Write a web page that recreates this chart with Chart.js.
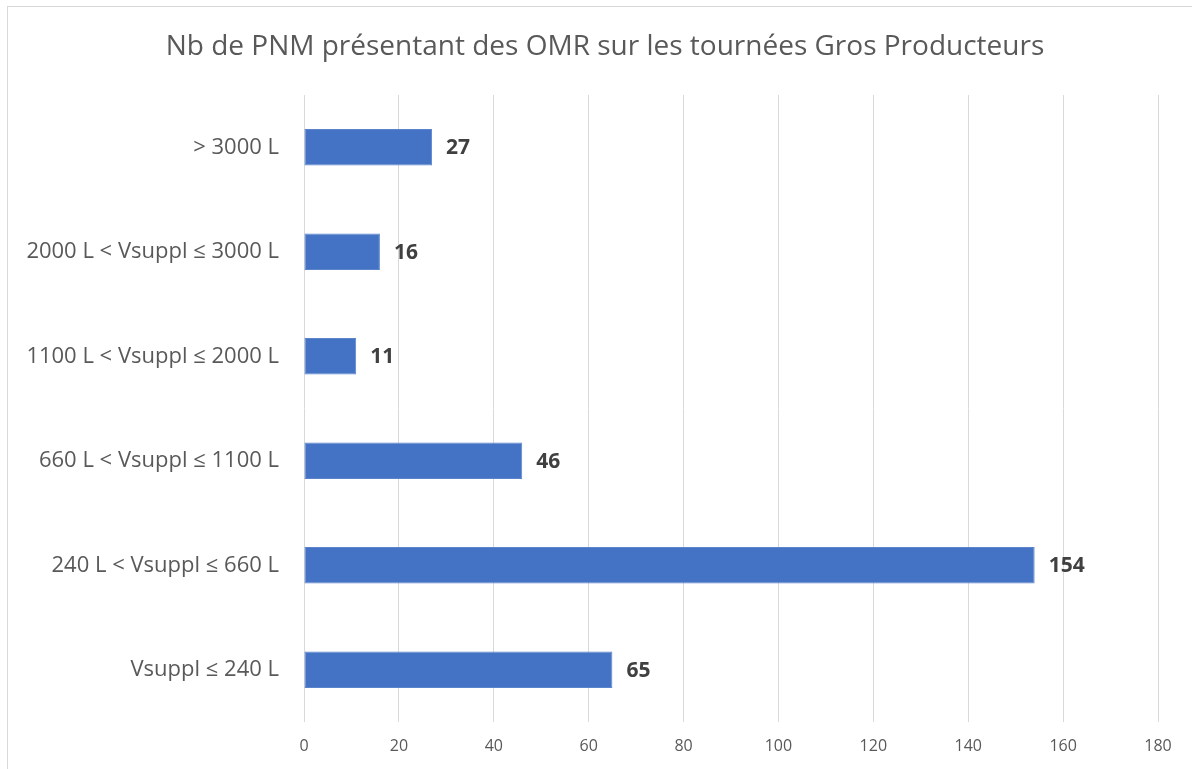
<!DOCTYPE html>
<html lang="fr">
<head>
<meta charset="utf-8">
<title>Nb de PNM présentant des OMR</title>
<script src="https://cdn.jsdelivr.net/npm/chart.js@4/dist/chart.umd.min.js"></script>
<style>
    html, body { margin: 0; padding: 0; background: #ffffff; overflow: hidden; }
    #wrap { position: relative; width: 1192px; height: 769px; }
    #frame {
        position: absolute; left: 7px; top: 6px; width: 1300px; height: 900px;
        border: 1px solid #d9d9d9; pointer-events: none;
    }
    #chart { position: absolute; left: 0; top: 0; }
</style>
</head>
<body>
<div id="wrap">
    <div id="frame"></div>
    <canvas id="chart" width="1192" height="769"></canvas>
</div>
<script>
// Chart data
const chartTitle = 'Nb de PNM présentant des OMR sur les tournées Gros Producteurs';
const categories = [
    '> 3000 L',
    '2000 L < Vsuppl ≤ 3000 L',
    '1100 L < Vsuppl ≤ 2000 L',
    '660 L < Vsuppl ≤ 1100 L',
    '240 L < Vsuppl ≤ 660 L',
    'Vsuppl ≤ 240 L'
];
const counts = [27, 16, 11, 46, 154, 65];
const xTicks = [0, 20, 40, 60, 80, 100, 120, 140, 160, 180];

const FONT = "'Open Sans', 'DejaVu Sans', sans-serif";
const GREY_TEXT = '#595959';

// Title is centred on the whole frame, not on the plot, so draw it here
const frameTitle = {
    id: 'frameTitle',
    afterDraw(chart) {
        const ctx = chart.ctx;
        ctx.save();
        ctx.font = '28px ' + FONT;
        ctx.fillStyle = GREY_TEXT;
        ctx.textAlign = 'center';
        ctx.textBaseline = 'middle';
        ctx.fillText(chartTitle, 605, 47);
        ctx.restore();
    }
};

// Draws the bold value at the end of each bar
const valueLabels = {
    id: 'valueLabels',
    afterDatasetsDraw(chart) {
        const ctx = chart.ctx;
        const meta = chart.getDatasetMeta(0);
        ctx.save();
        ctx.font = 'bold 21px ' + FONT;
        ctx.fillStyle = '#404040';
        ctx.textAlign = 'left';
        ctx.textBaseline = 'middle';
        meta.data.forEach((bar, i) => {
            ctx.fillText(String(counts[i]), bar.x + 14, bar.y + 1);
        });
        ctx.restore();
    }
};

new Chart(document.getElementById('chart'), {
    type: 'bar',
    data: {
        labels: categories,
        datasets: [{
            data: counts,
            backgroundColor: '#4472c4',
            borderColor: '#5b84cc',
            borderWidth: 1,
            borderSkipped: false,
            barPercentage: 0.35,
            categoryPercentage: 1
        }]
    },
    options: {
        indexAxis: 'y',
        responsive: false,
        animation: false,
        layout: { padding: { left: 0, right: 34, top: 95, bottom: 0 } },
        plugins: {
            legend: { display: false },
            tooltip: { enabled: false },
            title: { display: false }
        },
        scales: {
            x: {
                min: 0,
                max: 180,
                afterBuildTicks(scale) {
                    scale.ticks = xTicks.map(v => ({ value: v }));
                },
                afterFit(scale) { scale.height = 47; },
                grid: { color: '#d9d9d9', lineWidth: 1, drawTicks: false },
                border: { display: false },
                ticks: {
                    color: GREY_TEXT,
                    padding: 15,
                    font: { family: FONT, size: 16 }
                }
            },
            y: {
                afterFit(scale) { scale.width = 304; },
                grid: { display: false, drawTicks: false },
                border: { display: false },
                ticks: {
                    color: GREY_TEXT,
                    padding: 25,
                    font: { family: FONT, size: 22 }
                }
            }
        }
    },
    plugins: [valueLabels, frameTitle]
});
</script>
</body>
</html>
